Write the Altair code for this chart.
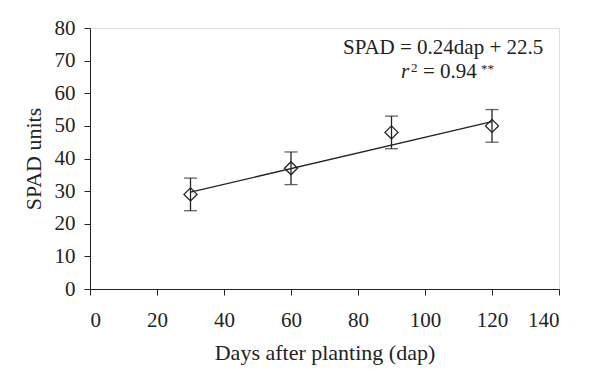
import altair as alt
import pandas as pd

dap = [30, 60, 90, 120]
spad = [29, 37, 48, 50]
err = [5, 5, 5, 5]
slope, intercept = 0.24, 22.5
fit_x = [30, 120]

df = pd.DataFrame({"dap": dap, "spad": spad,
                   "lo": [s - e for s, e in zip(spad, err)],
                   "hi": [s + e for s, e in zip(spad, err)]})
fit = pd.DataFrame({"dap": fit_x, "spad": [slope * x + intercept for x in fit_x]})

FONT = "Liberation Serif"
INK = "#222"
xs = alt.Scale(domain=[0, 140], nice=False, zero=True)
ys = alt.Scale(domain=[0, 80], nice=False)

xax = alt.Axis(values=list(range(0, 141, 20)), title="Days after planting (dap)", grid=False,
               labelFont=FONT, titleFont=FONT, labelFontSize=21, titleFontSize=22,
               titleFontWeight="normal", labelColor=INK, titleColor=INK, labelOverlap=False,
               domainColor=INK, tickColor=INK, tickSize=6, labelPadding=14, titlePadding=12)
yax = alt.Axis(values=list(range(0, 81, 10)), title="SPAD units", grid=False,
               labelFont=FONT, titleFont=FONT, labelFontSize=21, titleFontSize=22,
               titleFontWeight="normal", labelColor=INK, titleColor=INK, labelOverlap=False,
               domainColor=INK, tickColor=INK, tickSize=6, labelPadding=9, titlePadding=9)

def X(f):
    return alt.X(f, scale=xs, axis=xax, title="Days after planting (dap)")

def Y(f):
    return alt.Y(f, scale=ys, axis=yax, title="SPAD units")

line = alt.Chart(fit).mark_line(color=INK, strokeWidth=1.3).encode(
    x=X("dap:Q"), y=Y("spad:Q"))
rules = alt.Chart(df).mark_rule(color=INK, strokeWidth=1.3).encode(
    x=X("dap:Q"), y=Y("lo:Q"), y2="hi:Q")
cap_lo = alt.Chart(df).mark_tick(color=INK, orient="horizontal", size=13, thickness=1.3).encode(
    x=X("dap:Q"), y=Y("lo:Q"))
cap_hi = alt.Chart(df).mark_tick(color=INK, orient="horizontal", size=13, thickness=1.3).encode(
    x=X("dap:Q"), y=Y("hi:Q"))
pts = alt.Chart(df).mark_point(shape="diamond", filled=False, color=INK, size=170,
                               strokeWidth=1.3, opacity=1).encode(x=X("dap:Q"), y=Y("spad:Q"))

def txt(s, x, y, size=21, style="normal"):
    return alt.Chart(pd.DataFrame({"t": [s]})).mark_text(
        font=FONT, fontSize=size, fontStyle=style, color=INK, align="left",
        baseline="alphabetic").encode(text="t:N", x=alt.value(x), y=alt.value(y))

t1 = txt("SPAD = 0.24dap + 22.5", 253, 26)
t_r = txt("r", 311, 50, style="italic")
t_2 = txt("2", 321, 44, size=13)
t_v = txt("= 0.94", 333, 50)
t_s = txt("**", 391, 45, size=13)

chart = alt.layer(line, rules, cap_lo, cap_hi, pts, t1, t_r, t_2, t_v, t_s).properties(
    width=469, height=261,
    autosize=alt.AutoSizeParams(type="none"),
    padding={"left": 82, "top": 20, "right": 31, "bottom": 100},
).configure_view(stroke=None).configure(background="white")

chart.save("out.html", embed_options={"renderer": "svg", "actions": False})
